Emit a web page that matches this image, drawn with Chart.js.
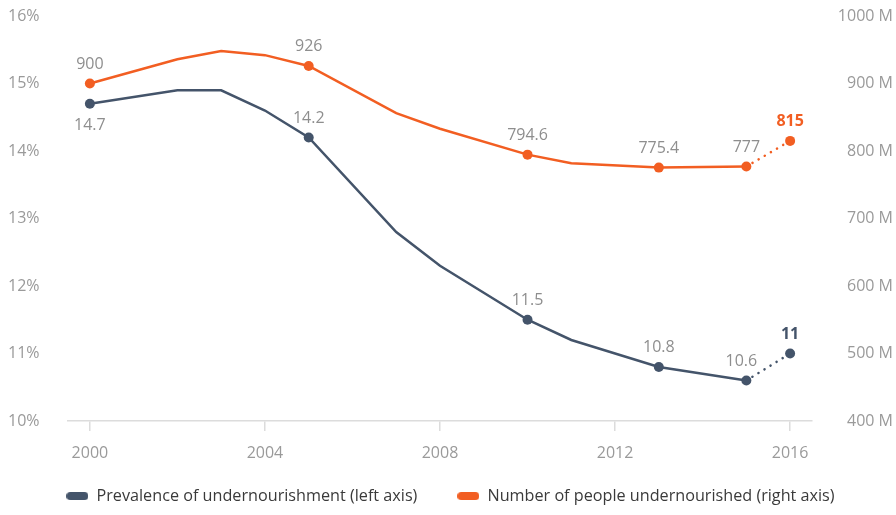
<!DOCTYPE html>
<html>
<head>
<meta charset="utf-8">
<script src="https://cdn.jsdelivr.net/npm/chart.js@4/dist/chart.umd.min.js"></script>
<style>
  html, body { margin: 0; padding: 0; background: #fff; }
  #wrap { width: 896px; height: 515px; position: relative; }
</style>
</head>
<body>
<div id="wrap"><canvas id="c"></canvas></div>
<script>
// Years with a vertex on either line
const years = [2000, 2002, 2003, 2004, 2005, 2007, 2008, 2010, 2011, 2013, 2015, 2016];
// Prevalence of undernourishment, % of population (left axis)
const prevalence = [14.7, 14.9, 14.9, 14.6, 14.2, 12.8, 12.3, 11.5, 11.2, 10.8, 10.6, 11];
// Number of people undernourished, millions (right axis)
const undernourished = [900, 936, 948, 942, 926, 856, 833, 794.6, 782, 775.4, 777, 815];
// Years that carry a marker and a value label
const labelledYears = [2000, 2005, 2010, 2013, 2015, 2016];
// Last year is a projection, drawn dotted and highlighted
const projectedYear = 2016;
// Axis ticks
const xTicks = [2000, 2004, 2008, 2012, 2016];
const leftTicks = [10, 11, 12, 13, 14, 15, 16];
const rightTicks = [400, 500, 600, 700, 800, 900, 1000];

const DARK = '#44546a';
const ORANGE = '#f25e22';
const FONT = '"Open Sans", "Noto Sans", sans-serif';

function pill(color) {
  const c = document.createElement('canvas');
  c.width = 22; c.height = 8;
  const g = c.getContext('2d');
  g.fillStyle = color;
  g.beginPath();
  g.roundRect(0, 0, 22, 8, 4);
  g.fill();
  return c;
}

function series(values) {
  return years.map((y, i) => ({ x: y, y: values[i] }));
}

const markerRadius = ctx => labelledYears.includes(years[ctx.dataIndex]) ? 5 : 0;
const projSegment = {
  borderDash: ctx => ctx.p1.parsed.x >= projectedYear ? [0.1, 7] : undefined,
  borderCapStyle: ctx => ctx.p1.parsed.x >= projectedYear ? 'round' : 'butt'
};

// Value labels next to the marked points
const valueLabels = {
  id: 'valueLabels',
  afterDatasetsDraw(chart) {
    const ctx = chart.ctx;
    ctx.save();
    ctx.textAlign = 'center';
    ctx.textBaseline = 'middle';
    chart.data.datasets.forEach((ds, di) => {
      const meta = chart.getDatasetMeta(di);
      meta.data.forEach((pt, i) => {
        const yr = ds.data[i].x;
        if (!labelledYears.includes(yr)) return;
        const v = ds.data[i].y;
        const proj = yr === projectedYear;
        ctx.font = (proj ? 'bold ' : '') + '16px ' + FONT;
        ctx.fillStyle = proj ? ds.borderColor : '#8e8e8e';
        let dy = -19.5, dx = 0;
        if (di === 0 && i === 0) dy = 22;
        if (di === 0 && yr === 2015) dx = -5;
        ctx.fillText(String(v), pt.x + dx, pt.y + dy);
      });
    });
    ctx.restore();
  }
};

// Fixed legend band height; the legend row is then lifted closer to the axis labels
const legendBand = {
  id: 'legendBand',
  beforeInit(chart) {
    const lg = chart.legend;
    if (!lg) return;
    const fit = lg.fit;
    lg.fit = function () {
      fit.call(this);
      this.height = 44;
    };
  },
  afterLayout(chart) {
    const lg = chart.legend;
    if (!lg) return;
    lg.top -= 19;
  }
};

new Chart(document.getElementById('c'), {
  type: 'line',
  data: {
    datasets: [
      {
        label: 'Prevalence of undernourishment (left axis)',
        data: series(prevalence),
        yAxisID: 'yLeft',
        borderColor: DARK,
        backgroundColor: DARK,
        borderWidth: 2.5,
        pointRadius: markerRadius,
        pointHoverRadius: markerRadius,
        pointBorderWidth: 0,
        tension: 0,
        segment: projSegment
      },
      {
        label: 'Number of people undernourished (right axis)',
        data: series(undernourished),
        yAxisID: 'yRight',
        borderColor: ORANGE,
        backgroundColor: ORANGE,
        borderWidth: 2.5,
        pointRadius: markerRadius,
        pointHoverRadius: markerRadius,
        pointBorderWidth: 0,
        tension: 0,
        segment: projSegment
      }
    ]
  },
  options: {
    responsive: true,
    maintainAspectRatio: false,
    animation: false,
    layout: { padding: { left: 8, right: 3, top: 16, bottom: 4 } },
    scales: {
      x: {
        type: 'linear',
        min: 1999.5,
        max: 2016.5,
        afterBuildTicks: s => { s.ticks = xTicks.map(v => ({ value: v })); },
        afterFit: s => { s.height = 46; },
        ticks: {
          color: '#9a9a9a',
          font: { family: FONT, size: 16 },
          padding: 13,
          callback: v => String(v)
        },
        grid: { drawOnChartArea: false, drawTicks: true, tickLength: 10, color: '#dcdcdc', lineWidth: 1.5 },
        border: { display: true, color: '#dcdcdc', width: 1.5 }
      },
      yLeft: {
        type: 'linear',
        position: 'left',
        min: 10,
        max: 16,
        afterBuildTicks: s => { s.ticks = leftTicks.map(v => ({ value: v })); },
        afterFit: s => { s.width = 60; },
        ticks: {
          color: '#9a9a9a',
          font: { family: FONT, size: 16 },
          crossAlign: 'far',
          callback: v => v + '%'
        },
        grid: { display: false },
        border: { display: false }
      },
      yRight: {
        type: 'linear',
        position: 'right',
        min: 400,
        max: 1000,
        afterBuildTicks: s => { s.ticks = rightTicks.map(v => ({ value: v })); },
        afterFit: s => { s.width = 81; },
        ticks: {
          color: '#9a9a9a',
          font: { family: FONT, size: 16 },
          crossAlign: 'far',
          callback: v => v + ' M'
        },
        grid: { display: false },
        border: { display: false }
      }
    },
    plugins: {
      legend: {
        position: 'bottom',
        labels: {
          usePointStyle: true,
          pointStyleWidth: 22,
          color: '#3a3a3a',
          font: { family: FONT, size: 16.2 },
          padding: 40,
          generateLabels: chart => {
            const items = Chart.defaults.plugins.legend.labels.generateLabels(chart);
            items.forEach(it => {
              it.pointStyle = pill(chart.data.datasets[it.datasetIndex].borderColor);
            });
            return items;
          }
        }
      },
      tooltip: { enabled: false }
    }
  },
  plugins: [valueLabels, legendBand]
});
</script>
</body>
</html>
